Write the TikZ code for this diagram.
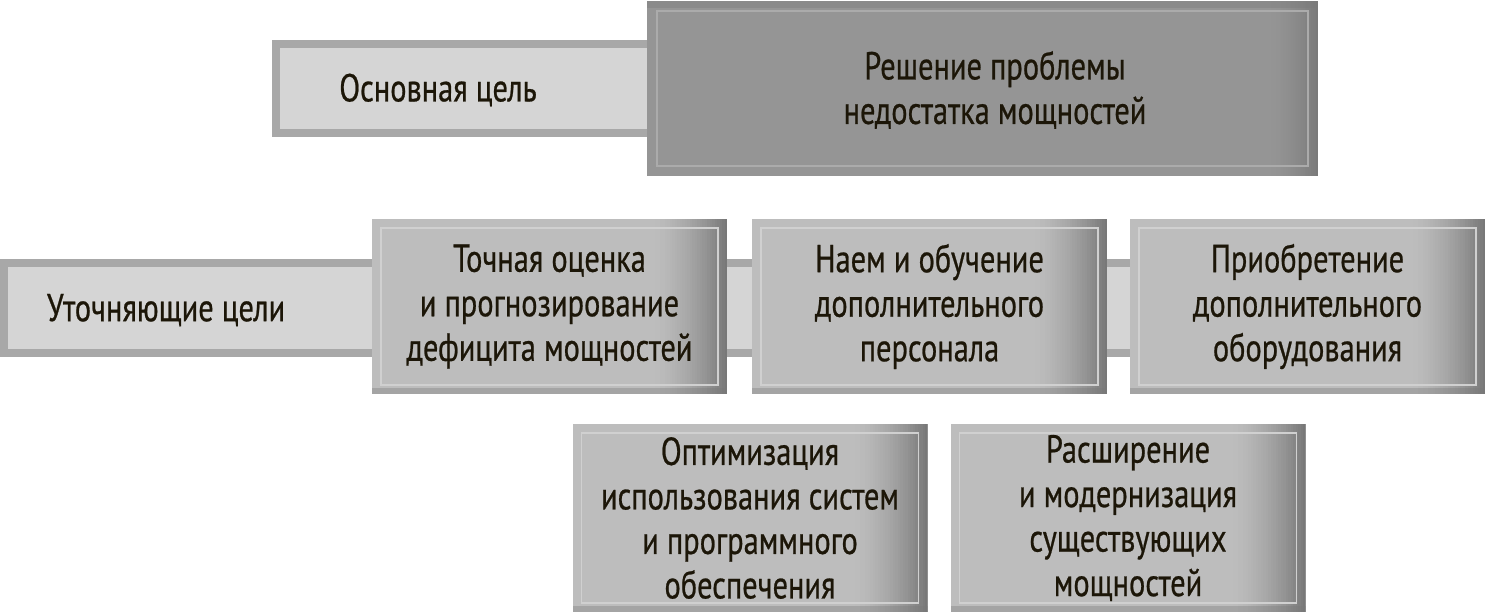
\documentclass[tikz,border=0pt]{standalone}
\usepackage{fontspec}
\setmainfont{PT Sans}[FakeStretch=0.78,FakeBold=0.6]
\definecolor{txt}{HTML}{1C1608}
\definecolor{boxA}{HTML}{BDBDBD}
\definecolor{boxB}{HTML}{787878}
\definecolor{boxLine}{HTML}{D0D0D0}
\definecolor{topA}{HTML}{959595}
\definecolor{topB}{HTML}{7A7A7A}
\definecolor{topLine}{HTML}{ABABAB}
\definecolor{barEdge}{HTML}{A8A8A8}
\definecolor{barFill}{HTML}{D5D5D5}
\newcommand{\rightramp}[3]{% width, light, dark
  \foreach \i in {1,...,30}{%
    \pgfmathtruncatemacro\p{100*(\i/30)^1.6}%
    \fill[#3!\p!#2] ([xshift={-#1*(31-\i)/30*1pt}]path picture bounding box.north east) rectangle ([xshift={-#1*(30-\i)/30*1pt+0.3pt}]path picture bounding box.south east);}}
\begin{document}
\begin{tikzpicture}[x=1pt,y=-1pt,
  lbl/.style={text=txt,font=\fontsize{39}{44.5}\selectfont,align=center,inner sep=0pt},
  bar/.style={fill=barEdge,
    path picture={\fill[barFill] ([shift={(8pt,8pt)}]path picture bounding box.south west) rectangle ([shift={(-2pt,-8pt)}]path picture bounding box.north east);}},
  stepbox/.style={lbl,fill=boxA,minimum width=355pt,minimum height=175pt,
    path picture={
      \rightramp{75}{boxA}{boxB}
      \fill[boxB,opacity=0.35] (path picture bounding box.south west) rectangle ([yshift=6pt]path picture bounding box.south east);
      \draw[boxLine,line width=1.2pt] ([shift={(9pt,9pt)}]path picture bounding box.south west) rectangle ([shift={(-9pt,-9pt)}]path picture bounding box.north east);}},
  topbox/.style={lbl,fill=topA,minimum width=671pt,minimum height=175pt,
    path picture={
      \rightramp{50}{topA}{topB}
      \fill[topB,opacity=0.4] (path picture bounding box.north west) rectangle ([yshift=-7pt]path picture bounding box.north east);
      \draw[topLine,line width=1.2pt] ([shift={(10pt,10pt)}]path picture bounding box.south west) rectangle ([shift={(-10pt,-10pt)}]path picture bounding box.north east);}}
]
\useasboundingbox[fill=white] (0,0) rectangle (1485,614);
% bars
\path[bar] (272,40) rectangle (650,137);
\path[bar] (0,259) rectangle (1157,357);
% top
\node[topbox] (main) at (982.5,88.5) {};
\node[lbl] (maintxt) at (995,90) {Решение проблемы\\недостатка мощностей};
\node[lbl] (goal) at (438,90) {Основная цель};
\node[lbl] (sub) at (166,310) {Уточняющие цели};
% row 2
\node[stepbox] (b1) at (549.5,306.5) {Точная оценка\\и прогнозирование\\дефицита мощностей};
\node[stepbox] (b2) at (929.5,306.5) {Наем и обучение\\дополнительного\\персонала};
\node[stepbox] (b3) at (1307.5,306.5) {Приобретение\\дополнительного\\оборудования};
% row 3
\node[stepbox,minimum height=188pt] (b4) at (750,518) {Оптимизация\\использования систем\\и программного\\обеспечения};
\node[stepbox,minimum height=188pt] (b5) at (1128,518) {Расширение\\и модернизация\\существующих\\мощностей};
\end{tikzpicture}
\end{document}
